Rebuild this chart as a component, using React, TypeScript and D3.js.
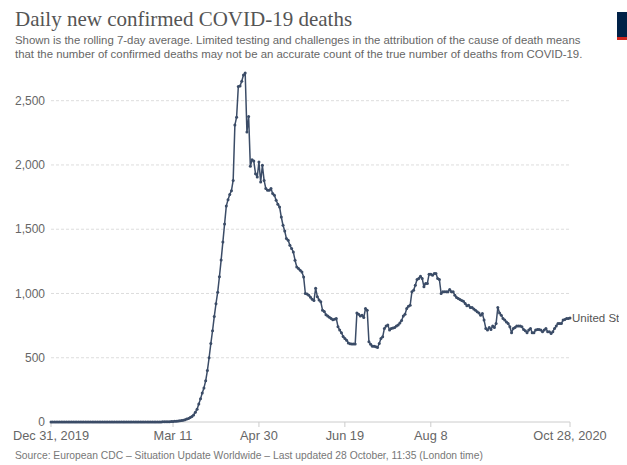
import React from 'react';
import * as d3 from 'd3';

// rolling 7-day average of daily confirmed deaths, one value per day from startDate
const startDate = '2019-12-31';
const deaths7d: number[] = [
  0, 0, 0, 0, 0, 0, 0, 0, 0, 0,
  0, 0, 0, 0, 0, 0, 0, 0, 0, 0,
  0, 0, 0, 0, 0, 0, 0, 0, 0, 0,
  0, 0, 0, 0, 0, 0, 0, 0, 0, 0,
  0, 0, 0, 0, 0, 0, 0, 0, 0, 0,
  0, 0, 0, 0, 0, 0, 0, 0, 0, 0,
  0, 0.1, 0.3, 0.6, 0.9, 1.1, 1.4, 1.7, 2.1, 2.6,
  3.3, 4, 4.9, 6, 7.4, 9, 11, 14, 18, 23,
  28, 35, 43, 55, 75, 100, 140, 180, 225, 265,
  320, 400, 500, 610, 710, 820, 920, 1010, 1130, 1260,
  1400, 1540, 1680, 1730, 1770, 1800, 1880, 2310, 2372, 2610,
  2615, 2652, 2700, 2715, 2256, 2378, 1989, 2040, 2030, 1932,
  1906, 2023, 1867, 1997, 1880, 1816, 1803, 1803, 1816, 1777,
  1764, 1725, 1694, 1673, 1595, 1531, 1486, 1427, 1414, 1375,
  1350, 1323, 1259, 1207, 1194, 1180, 1168, 1129, 1000, 995,
  987, 970, 955, 945, 1040, 975, 950, 935, 870, 860,
  835, 825, 815, 806, 795, 800, 806, 741, 715, 695,
  665, 650, 637, 615, 608, 606, 606, 606, 849, 839,
  824, 831, 813, 883, 870, 624, 605, 590, 590, 585,
  580, 611, 650, 663, 728, 746, 754, 715, 728, 732,
  736, 746, 755, 770, 790, 824, 839, 883, 901, 909,
  1013, 1026, 1064, 1109, 1117, 1134, 1117, 1052, 1078, 1078,
  1150, 1150, 1142, 1155, 1155, 1117, 1109, 1000, 1013, 1013,
  1013, 1013, 1031, 1013, 1013, 987, 969, 960, 953, 945,
  940, 922, 905, 909, 891, 891, 880, 870, 857, 849,
  831, 844, 793, 728, 715, 736, 720, 746, 736, 767,
  891, 849, 831, 806, 793, 779, 767, 741, 694, 728,
  736, 746, 746, 746, 741, 720, 710, 694, 715, 728,
  694, 694, 715, 720, 720, 715, 702, 715, 728, 702,
  702, 689, 702, 728, 746, 767, 767, 767, 793, 798,
  806, 806, 810,
];

const yTicks = [0, 500, 1000, 1500, 2000, 2500];
const xTickDates = ['2019-12-31', '2020-03-11', '2020-04-30', '2020-06-19', '2020-08-08', '2020-10-28'];
const xTickLabels = ['Dec 31, 2019', 'Mar 11', 'Apr 30', 'Jun 19', 'Aug 8', 'Oct 28, 2020'];
const seriesName = 'United States';

const W = 627;
const H = 465;
const lineColor = '#3b4c67';
const sans = '"Liberation Sans", Arial, Helvetica, sans-serif';

export default function App() {
  const start = d3.utcParse('%Y-%m-%d')(startDate)!;
  const points = deaths7d.map((v, i) => ({ date: d3.utcDay.offset(start, i), value: v }));

  const x = d3.scaleUtc()
    .domain([start, points[points.length - 1].date])
    .range([51, 570]);
  const y = d3.scaleLinear().domain([0, 2500]).range([422, 100.7]);

  const line = d3.line<{ date: Date; value: number }>()
    .x(d => x(d.date))
    .y(d => y(d.value));

  const last = points[points.length - 1];

  return (
    <svg
      width={W}
      height={H}
      style={{ position: 'absolute', left: 0, top: 0, background: '#fff' }}
    >
      <defs>
        <clipPath id="rightClip">
          <rect x={0} y={0} width={619} height={H} />
        </clipPath>
      </defs>

      {/* header */}
      <text x={15} y={26} fontFamily='"Liberation Serif", "DejaVu Serif", serif' fontSize={21} fill="#555">
        Daily new confirmed COVID-19 deaths
      </text>
      <text x={15} y={44} fontFamily={sans} fontSize={11.4} fill="#666">
        Shown is the rolling 7-day average. Limited testing and challenges in the attribution of the cause of death means
      </text>
      <text x={15} y={58} fontFamily={sans} fontSize={11.4} fill="#666">
        that the number of confirmed deaths may not be an accurate count of the true number of deaths from COVID-19.
      </text>

      {/* logo, mostly off the edge */}
      <rect x={617} y={12} width={40} height={28} fill="#002147" />
      <rect x={617} y={37} width={40} height={3} fill="#ce261e" />

      {/* y grid + labels */}
      {yTicks.map(t => (
        <g key={t}>
          {t > 0 && (
            <line x1={51} x2={570} y1={y(t)} y2={y(t)} stroke="#ddd" strokeDasharray="3,2" />
          )}
          <text x={45} y={y(t)} dy="0.35em" textAnchor="end" fontFamily={sans} fontSize={12} fill="#666">
            {d3.format(',')(t)}
          </text>
        </g>
      ))}

      {/* x axis */}
      <line x1={51} x2={570} y1={y(0)} y2={y(0)} stroke="#ccc" />
      {xTickDates.map((s, i) => {
        const xx = x(d3.utcParse('%Y-%m-%d')(s)!);
        return (
          <g key={s}>
            <line x1={xx} x2={xx} y1={y(0)} y2={y(0) + 5} stroke="#ccc" />
            <text x={xx} y={440} textAnchor="middle" fontFamily={sans} fontSize={12.8} fill="#666">
              {xTickLabels[i]}
            </text>
          </g>
        );
      })}

      {/* series */}
      <path d={line(points) || ''} fill="none" stroke={lineColor} strokeWidth={1.5} strokeLinejoin="round" />
      {points.map((p, i) => (
        <circle key={i} cx={x(p.date)} cy={y(p.value)} r={1.5} fill={lineColor} />
      ))}

      <g clipPath="url(#rightClip)">
        <text x={x(last.date) + 2} y={y(last.value)} dy="0.35em" fontFamily={sans} fontSize={11.5} fill="#555">
          {seriesName}
        </text>
      </g>

      {/* footer */}
      <text x={15} y={459} fontFamily={sans} fontSize={10.3} fill="#777">
        Source: European CDC – Situation Update Worldwide – Last updated 28 October, 11:35 (London time)
      </text>
    </svg>
  );
}
